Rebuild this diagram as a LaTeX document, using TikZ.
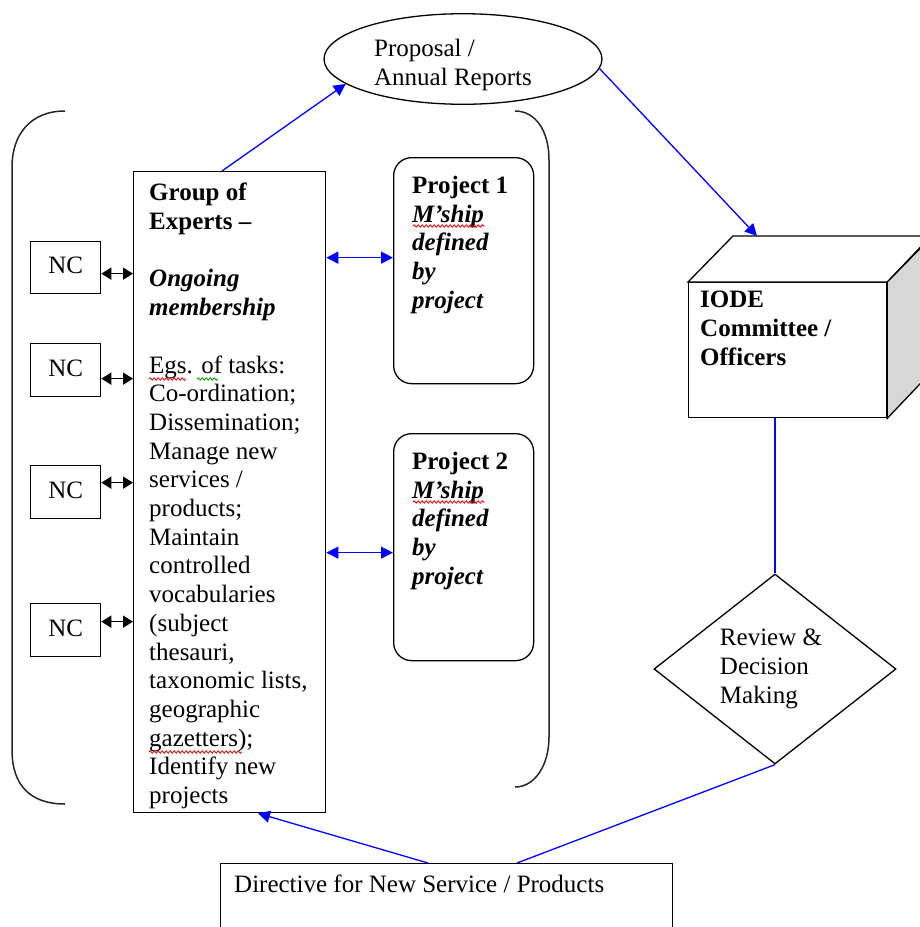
\documentclass[tikz,border=0pt]{standalone}
\usepackage{fontspec}
\setmainfont{Liberation Serif}
\usetikzlibrary{arrows.meta,shapes.geometric,calc,decorations.pathmorphing}
\definecolor{wblue}{RGB}{0,0,255}
\definecolor{sidegray}{RGB}{215,215,215}
\definecolor{spellred}{RGB}{230,0,0}
\definecolor{spellgreen}{RGB}{0,160,0}
\begin{document}
\begin{tikzpicture}[x=1pt,y=-1pt,
  every node/.style={font=\fontsize{25}{28.7}\selectfont},
  box/.style={draw=black,line width=1.3pt,inner sep=0pt,anchor=north west},
  txt/.style={inner sep=0pt,anchor=north west,align=left},
  blueline/.style={draw=wblue,line width=1.3pt},
  bluearrow/.style={blueline,-{Triangle[length=12pt,width=12pt]}},
  bluedouble/.style={blueline,{Triangle[length=12pt,width=12pt]}-{Triangle[length=12pt,width=12pt]}},
  blackdouble/.style={draw=black,line width=1.5pt,{Triangle[length=10pt,width=12pt]}-{Triangle[length=10pt,width=12pt]}},
  bracket/.style={draw=black!85,line width=1.5pt},
  wavy/.style={line width=0.8pt,decorate,decoration={snake,amplitude=1.2pt,segment length=4pt}}
]
\useasboundingbox (0,0) rectangle (920,927);
\clip (0,0) rectangle (920,927);

% brackets
\draw[bracket] (65,111) .. controls (30,111) and (12,135) .. (12,167) -- (12,750) .. controls (12,785) and (30,804) .. (65,804);
\draw[bracket] (515,111) .. controls (535,111) and (549,130) .. (549,160) -- (549,737) .. controls (549,765) and (535,787) .. (515,787);

% ellipse
\node[draw=black,line width=1.3pt,ellipse,minimum width=278pt,minimum height=86pt,inner sep=0pt,align=left] (prop) at (463,59) {\rule{0pt}{30pt}Proposal /\\Annual Reports\hspace*{20pt}};

% Group of experts
\node[box,minimum width=192pt,minimum height=641pt] (goe) at (133,171) {};
\node[txt] (goetext) at (149,183) {\textbf{Group of}\\\textbf{Experts –}\\[28.7pt]\textbf{\textit{Ongoing}}\\\textbf{\textit{membership}}\\[28.7pt]Egs. of tasks:\\Co-ordination;\\Dissemination;\\Manage new\\services /\\products;\\Maintain\\controlled\\vocabularies\\(subject\\thesauri,\\taxonomic lists,\\geographic\\gazetters);\\Identify new\\projects};

% NC boxes
\node[box,minimum width=70pt,minimum height=52pt] (nc1) at (30,241) {};
\node[box,minimum width=70pt,minimum height=53pt] (nc2) at (30,343) {};
\node[box,minimum width=70pt,minimum height=53pt] (nc3) at (30,465) {};
\node[box,minimum width=70pt,minimum height=53pt] (nc4) at (30,603) {};
\node at ([yshift=2pt]nc1.center) {NC};
\node at ([yshift=2pt]nc2.center) {NC};
\node at ([yshift=2pt]nc3.center) {NC};
\node at ([yshift=2pt]nc4.center) {NC};

% projects
\node[box,rounded corners=18pt,minimum width=140pt,minimum height=226pt] (p1) at (393,157) {};
\node[box,rounded corners=18pt,minimum width=140pt,minimum height=227pt] (p2) at (393,433) {};
\node[txt] (p1text) at (412,176) {\textbf{Project 1}\\\textbf{\textit{M'ship}}\\\textbf{\textit{defined}}\\\textbf{\textit{by}}\\\textbf{\textit{project}}};
\node[txt] (p2text) at (412,452) {\textbf{Project 2}\\\textbf{\textit{M'ship}}\\\textbf{\textit{defined}}\\\textbf{\textit{by}}\\\textbf{\textit{project}}};

% IODE cube
\node[box,fill=white,minimum width=198pt,minimum height=135pt] (iode) at (688,282) {};
\draw[line width=1.3pt,fill=white] (iode.north west) -- ++(45,-46) -- ++(198,0) -- (iode.north east) -- cycle;
\draw[line width=1.3pt,fill=sidegray] (iode.north east) -- ++(45,-46) -- ++(0,135) -- (iode.south east) -- cycle;
\node[txt] (iodetext) at (700,291) {\textbf{IODE}\\\textbf{Committee /}\\\textbf{Officers}};
\coordinate (ctop) at ($(iode.north west)+(69,-46)$);

% diamond
\node[draw=black,line width=1.3pt,diamond,minimum width=242pt,minimum height=190pt,inner sep=0pt,align=left] (diam) at (775,669) {Review \&\hspace*{8pt}\\Decision\\Making};

% directive
\node[box,minimum width=452pt,minimum height=90pt] (dir) at (220,863) {};
\node[txt] (dirtext) at (234,875) {Directive for New Service / Products};

% spell-check underlines
\draw[wavy,spellred] (149,379) -- (186,379);
\draw[wavy,spellgreen] (197,379) -- (218,379);
\draw[wavy,spellred] (413,226) -- (485,226);
\draw[wavy,spellred] (413,502) -- (485,502);
\draw[wavy,spellred] (149,752) -- (242,752);

% connectors
\draw[bluearrow] ([xshift=89pt]goe.north west) -- (prop.192);
\draw[bluearrow] (prop.356) -- (ctop);
\draw[blueline] (diam.north |- iode.south) -- (diam.north);
\draw[blueline] (diam.south) -- ([xshift=297pt]dir.north west);
\draw[bluearrow] ([xshift=208pt]dir.north west) -- ([xshift=125pt]goe.south west);

\coordinate (a1) at ([yshift=13pt]p1.west);
\coordinate (a2) at ([yshift=-5.5pt]p2.west);
\draw[bluedouble] (a1 -| goe.east) -- (a1);
\draw[bluedouble] (a2 -| goe.east) -- (a2);

\coordinate (n1) at ([yshift=-6pt]nc1.east);
\coordinate (n2) at ([yshift=-8.5pt]nc2.east);
\coordinate (n3) at ([yshift=9.5pt]nc3.east);
\coordinate (n4) at ([yshift=8.5pt]nc4.east);
\draw[blackdouble] (n1) -- (n1 -| goe.west);
\draw[blackdouble] (n2) -- (n2 -| goe.west);
\draw[blackdouble] (n3) -- (n3 -| goe.west);
\draw[blackdouble] (n4) -- (n4 -| goe.west);
\end{tikzpicture}
\end{document}
